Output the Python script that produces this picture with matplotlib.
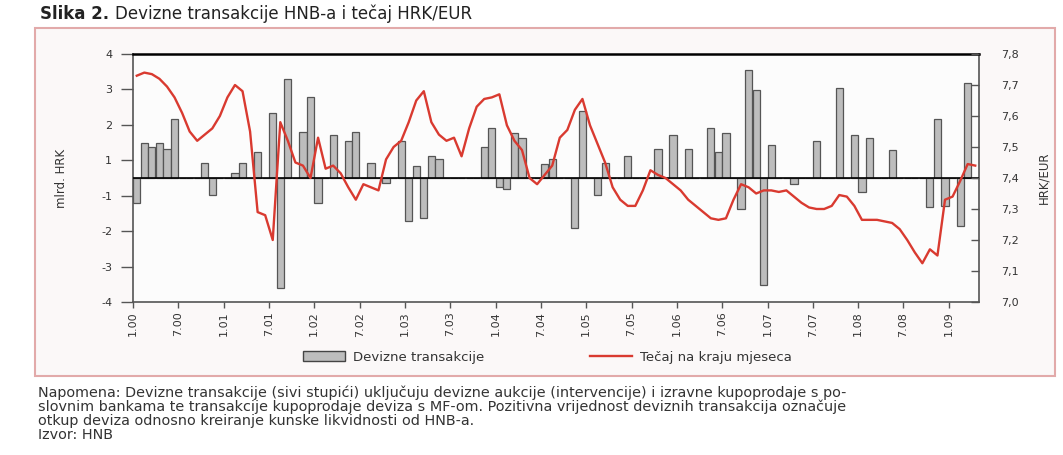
import matplotlib
matplotlib.use("Agg")
import matplotlib.pyplot as plt
import numpy as np
from matplotlib.patches import Rectangle, Patch
from matplotlib.lines import Line2D

plt.rcParams["font.family"] = ["DejaVu Sans"]

# monthly data, Jan 2000 - Apr 2009
transactions = [
    -0.82, 1.12, 1.0, 1.12, 0.95, 1.9, 0, 0, 0, 0.5, -0.55, 0,
    0, 0.15, 0.5, 0, 0.85, 0, 2.1, -3.55, 3.2, 0, 1.5, 2.6,
    -0.8, 0, 1.4, 0, 1.2, 1.5, 0, 0.5, 0, -0.16, 0, 1.2,
    -1.4, 0.4, -1.3, 0.7, 0.6, 0, 0, 0, 0, 0, 1.0, 1.6,
    -0.3, -0.35, 1.45, 1.3, 0, 0, 0.45, 0.6, 0, 0, -1.6, 2.15,
    0, -0.55, 0.5, 0, 0, 0.7, 0, 0, 0, 0.95, 0, 1.4,
    0, 0.95, 0, 0, 1.6, 0.85, 1.45, 0, -1.0, 3.5, 2.85, -3.45,
    1.05, 0, 0, -0.2, 0, 0, 1.2, 0, 0, 2.9, 0, 1.4,
    -0.45, 1.3, 0, 0, 0.9, 0, 0, 0, 0, -0.95, 1.9, -0.9,
    0, -1.55, 3.05, 0,
]
rate = [
    7.73, 7.74, 7.735, 7.72, 7.695, 7.66, 7.61, 7.55, 7.52, 7.54, 7.56, 7.60,
    7.66, 7.70, 7.68, 7.55, 7.29, 7.28, 7.20, 7.58, 7.52, 7.45, 7.44, 7.40,
    7.53, 7.43, 7.44, 7.415, 7.37, 7.33, 7.38, 7.37, 7.36, 7.46, 7.50, 7.52,
    7.58, 7.65, 7.68, 7.58, 7.54, 7.52, 7.53, 7.47, 7.56, 7.63, 7.655, 7.66,
    7.67, 7.57, 7.52, 7.49, 7.40, 7.38, 7.41, 7.44, 7.53, 7.555, 7.62, 7.655,
    7.57, 7.51, 7.45, 7.37, 7.33, 7.31, 7.31, 7.36, 7.425, 7.41, 7.40, 7.38,
    7.36, 7.33, 7.31, 7.29, 7.27, 7.265, 7.27, 7.33, 7.38, 7.37, 7.35, 7.36,
    7.36, 7.355, 7.36, 7.34, 7.32, 7.305, 7.30, 7.30, 7.31, 7.345, 7.34, 7.31,
    7.265, 7.265, 7.265, 7.26, 7.255, 7.235, 7.20, 7.16, 7.125, 7.17, 7.15, 7.33,
    7.34, 7.39, 7.445, 7.44,
]
xlabels = ["1.00", "7.00", "1.01", "7.01", "1.02", "7.02", "1.03", "7.03",
           "1.04", "7.04", "1.05", "7.05", "1.06", "7.06", "1.07", "7.07",
           "1.08", "7.08", "1.09"]
left_labels = ["4", "3", "2", "1", "-1", "-2", "-3", "-4"]
right_ticks = [7.0, 7.1, 7.2, 7.3, 7.4, 7.5, 7.6, 7.7, 7.8]

W, H = 1063, 455
fig = plt.figure(figsize=(W / 100, H / 100), dpi=100)
fig.patch.set_facecolor("white")

# frame around the chart
frame = Rectangle((35 / W, 1 - 376 / H), 1020 / W, 348 / H,
                  transform=fig.transFigure, facecolor="#fbf8f8",
                  edgecolor="#e2aaaa", linewidth=1.5, zorder=-5)
fig.patches.append(frame)

ax = fig.add_axes([133 / W, 1 - 302 / H, 846 / W, 248 / H])
ax.set_facecolor("#fcfcfc")
x = np.arange(len(transactions)) + 0.5
ax.bar(x, transactions, width=0.95, color="#bdbdbd", edgecolor="#555555",
       linewidth=0.9, zorder=2)
ax.axhline(0, color="black", lw=1.2, zorder=3)
ax.set_xlim(0, len(transactions))
ax.set_ylim(-4, 4)
ax.set_yticks(np.linspace(4, -4, 8))
ax.set_yticklabels(left_labels)
ax.set_xticks(np.arange(0, len(transactions), 6))
ax.set_xticklabels(xlabels, rotation=90)
ax.tick_params(axis="y", direction="out", length=9, width=1, colors="#555555",
               labelsize=8, labelcolor="#333333", pad=6)
ax.tick_params(axis="x", direction="out", length=4, width=1, colors="#555555",
               labelsize=8, labelcolor="#333333", pad=3)
ax.set_ylabel("mlrd. HRK", fontsize=8.5, color="#333333", labelpad=24)
for s in ["left", "bottom", "right"]:
    ax.spines[s].set_color("#555555")
    ax.spines[s].set_linewidth(1.2)
ax.spines["top"].set_color("black")
ax.spines["top"].set_linewidth(1.8)

ax2 = ax.twinx()
ax2.plot(x, rate, color="#d93a30", lw=1.7, zorder=4)
ax2.set_ylim(7.0, 7.8)
ax2.set_yticks(right_ticks)
ax2.set_yticklabels([f"{t:.1f}".replace(".", ",") for t in right_ticks])
ax2.tick_params(axis="y", direction="in", length=6, width=1, colors="#555555",
                labelsize=8, labelcolor="#333333", pad=16)
ax2.set_ylabel("HRK/EUR", fontsize=8.5, color="#333333", labelpad=13)
for s in ax2.spines.values():
    s.set_visible(False)

handles = [Patch(facecolor="#bdbdbd", edgecolor="#444444", linewidth=1),
           Line2D([0], [0], color="#d93a30", lw=1.7)]
fig.legend(handles, ["Devizne transakcije", "Tečaj na kraju mjeseca"],
           loc="center", bbox_to_anchor=(0.515, 1 - 357 / H), ncol=2,
           frameon=False, fontsize=9.5, columnspacing=8, handlelength=3.2,
           handletextpad=0.6, labelcolor="#333333")

t1 = fig.text(40 / W, 1 - 14 / H, "Slika 2.", fontsize=12, fontweight="bold",
              color="#222222", va="center")
fig.canvas.draw()
bb = t1.get_window_extent()
fig.text((bb.x1 + 6) / W, 1 - 14 / H, "Devizne transakcije HNB-a i tečaj HRK/EUR",
         fontsize=12, color="#222222", va="center")

notes = [
    "Napomena: Devizne transakcije (sivi stupići) uključuju devizne aukcije (intervencije) i izravne kupoprodaje s po-",
    "slovnim bankama te transakcije kupoprodaje deviza s MF-om. Pozitivna vrijednost deviznih transakcija označuje",
    "otkup deviza odnosno kreiranje kunske likvidnosti od HNB-a.",
    "Izvor: HNB",
]
for i, line in enumerate(notes):
    fig.text(38 / W, 1 - (393 + 14 * i) / H, line, fontsize=10.4,
             color="#333333", va="center")

fig.savefig("out.png", dpi=100)
